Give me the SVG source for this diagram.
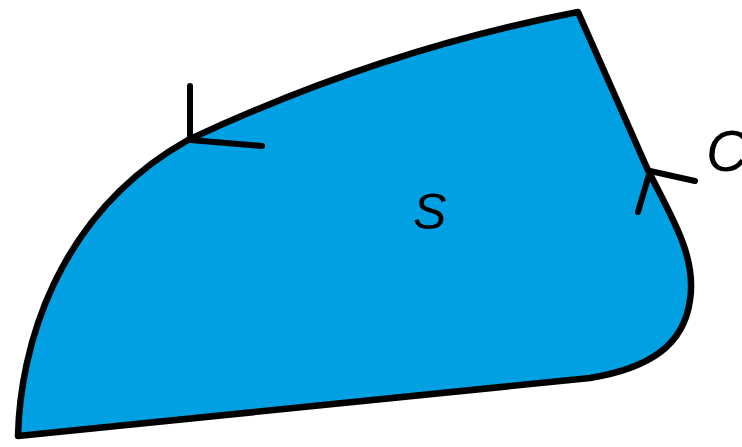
<svg xmlns="http://www.w3.org/2000/svg" width="742" height="447" viewBox="0 0 742 447">
<style>
.edge{fill:none;stroke:#000;stroke-width:6;stroke-linecap:round;stroke-linejoin:round}
.lbl{font-family:"Liberation Sans",Arial,sans-serif;font-style:italic;fill:#000}
</style>
<g id="region">
<path d="M18 436 C20 350 55 215 188 140 Q 380 50 578 12 L647 168 C670 215 697 255 690 300 C684 345 650 368 590 378 Z" fill="#00A0E3" stroke="#000" stroke-width="6.5" stroke-linejoin="round"/>
</g>
<g id="connectors">
<path class="edge" d="M190 86 L190 140 L262 146"/>
<path class="edge" d="M638 212 L650 171 L695 181"/>
</g>
<g id="labels">
<text class="lbl" x="413" y="229" font-size="50">S</text>
<text class="lbl" x="706" y="171" font-size="58">C</text>
</g>
</svg>
